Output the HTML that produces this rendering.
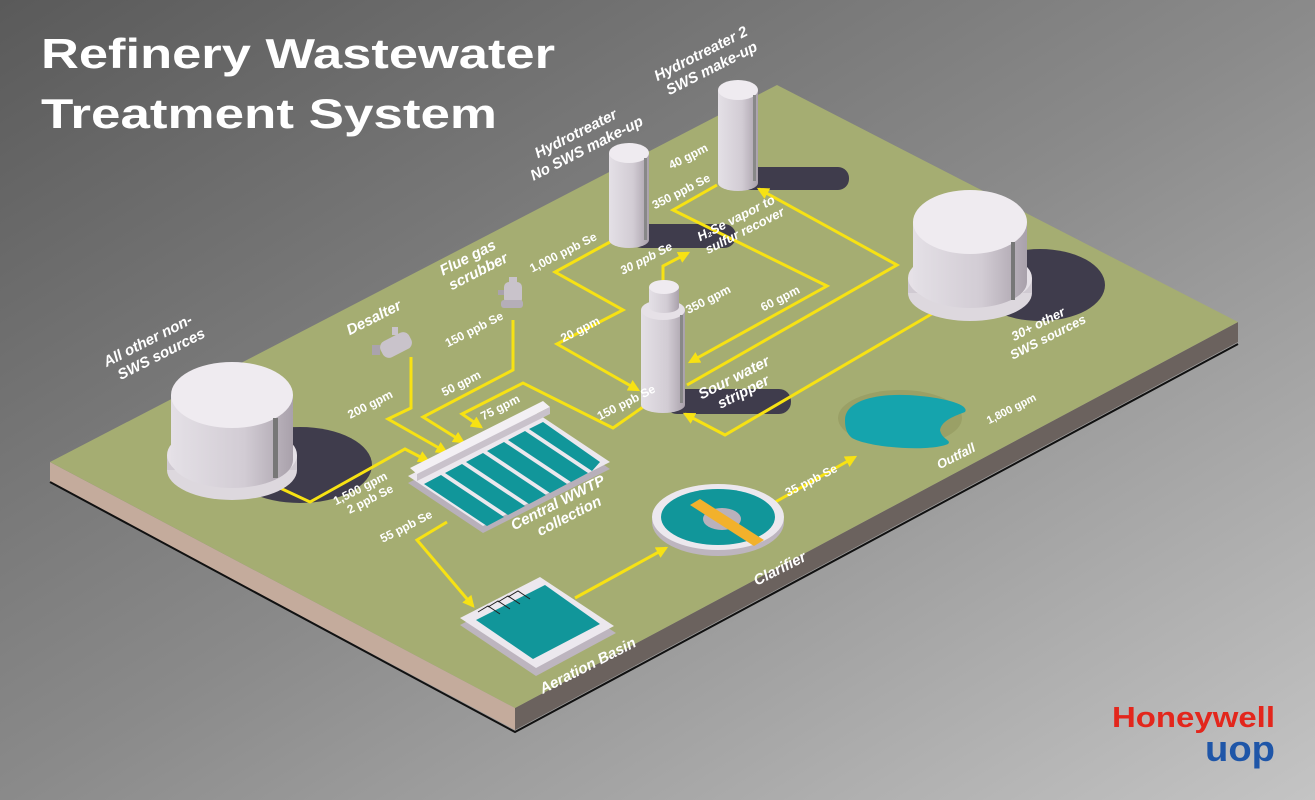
<!DOCTYPE html>
<html><head><meta charset="utf-8"><style>
html,body{margin:0;padding:0;width:1315px;height:800px;overflow:hidden}
svg{display:block}
.t{font-family:"Liberation Sans",sans-serif;font-weight:bold;font-style:italic;fill:#fff;font-size:15px}
.f{font-family:"Liberation Sans",sans-serif;font-weight:bold;fill:#fff;font-size:12px}
.y{fill:none;stroke:#f7e213;stroke-width:3;stroke-linejoin:miter}
</style></head><body>
<svg width="1315" height="800" viewBox="0 0 1315 800" xmlns="http://www.w3.org/2000/svg">
<defs>
<linearGradient id="bg" x1="0" y1="0" x2="1" y2="1">
<stop offset="0" stop-color="#5a5a5a"/><stop offset="0.5" stop-color="#8a8a8a"/><stop offset="1" stop-color="#c4c4c4"/>
</linearGradient>
<linearGradient id="cyl" x1="0" x2="1">
<stop offset="0" stop-color="#e4e0e6"/><stop offset="0.6" stop-color="#d2ccd4"/><stop offset="1" stop-color="#a9a1ab"/>
</linearGradient>
<marker id="ar" viewBox="0 0 10 10" refX="8" refY="5" markerWidth="4" markerHeight="4" orient="auto"><path d="M0,0L10,5L0,10z" fill="#f7e213"/></marker>
</defs>
<rect width="1315" height="800" fill="url(#bg)"/>
<!-- slab -->
<polygon points="50,462 515,708 515,730 50,482" fill="#c4ab9c"/>
<polygon points="515,708 1238,322 1238,342 515,730" fill="#6b625e"/>
<polyline points="50,482 515,732 1238,344" fill="none" stroke="#111" stroke-width="2"/>
<polygon points="50,462 777,85 1238,322 515,708" fill="#a5ad72"/>

<!-- shadows -->
<ellipse cx="300" cy="465" rx="72" ry="38" fill="#3f3c4c"/>
<ellipse cx="1040" cy="285" rx="65" ry="36" fill="#3f3c4c"/>
<rect x="630" y="224" width="106" height="24" rx="12" fill="#3f3c4c"/>
<rect x="735" y="167" width="114" height="23" rx="11" fill="#3f3c4c"/>
<rect x="665" y="389" width="126" height="25" rx="12" fill="#3f3c4c"/>

<!-- yellow lines -->
<polyline class="y" marker-end="url(#ar)" points="280,488 310,502 405,449 428,461"/>
<polyline class="y" marker-end="url(#ar)" points="411,357 411,408 388,419 446,452"/>
<polyline class="y" marker-end="url(#ar)" points="513,320 513,370 423,417 463,442"/>
<polyline class="y" marker-end="url(#ar)" points="643,407 613,428 523,383 462,414 481,427"/>
<polyline class="y" marker-end="url(#ar)" points="610,242 555,272 623,310 557,344 638,390"/>
<polyline class="y" marker-end="url(#ar)" points="663,287 663,266 688,253"/>
<polyline class="y" marker-end="url(#ar)" points="717,185 673,210 827,286 690,362"/>
<polyline class="y" marker-end="url(#ar)" points="687,385 897,265 759,189"/>
<polyline class="y" marker-end="url(#ar)" points="935,312 725,435 685,414"/>
<polyline class="y" marker-end="url(#ar)" points="447,522 417,540 473,606"/>
<polyline class="y" marker-end="url(#ar)" points="575,598 666,548"/>
<polyline class="y" marker-end="url(#ar)" points="770,505 855,457"/>

<!-- big left tank -->
<ellipse cx="232" cy="470" rx="65" ry="30" fill="#ddd8de"/>
<rect x="167" y="455" width="130" height="15" fill="#d0cad2"/>
<ellipse cx="232" cy="455" rx="65" ry="30" fill="#e6e1e7"/>
<rect x="171" y="395" width="122" height="65" fill="url(#cyl)"/>
<ellipse cx="232" cy="460" rx="61" ry="28" fill="url(#cyl)"/>
<ellipse cx="232" cy="395" rx="61" ry="33" fill="#efebf0"/>
<rect x="273" y="418" width="5" height="60" fill="#777"/>
<!-- big right tank -->
<ellipse cx="970" cy="293" rx="62" ry="28" fill="#ddd8de"/>
<rect x="908" y="278" width="124" height="15" fill="#d0cad2"/>
<ellipse cx="970" cy="278" rx="62" ry="28" fill="#e6e1e7"/>
<rect x="913" y="222" width="114" height="60" fill="url(#cyl)"/>
<ellipse cx="970" cy="282" rx="57" ry="26" fill="url(#cyl)"/>
<ellipse cx="970" cy="222" rx="57" ry="32" fill="#efebf0"/>
<rect x="1011" y="242" width="4" height="58" fill="#777"/>
<!-- hydrotreater 1 -->
<rect x="609" y="153" width="40" height="87" fill="url(#cyl)"/>
<ellipse cx="629" cy="240" rx="20" ry="8" fill="url(#cyl)"/>
<ellipse cx="629" cy="153" rx="20" ry="10" fill="#efebf0"/>
<rect x="644" y="158" width="3" height="82" fill="#888"/>
<!-- hydrotreater 2 -->
<rect x="718" y="90" width="40" height="93" fill="url(#cyl)"/>
<ellipse cx="738" cy="183" rx="20" ry="8" fill="url(#cyl)"/>
<ellipse cx="738" cy="90" rx="20" ry="10" fill="#efebf0"/>
<rect x="753" y="95" width="3" height="86" fill="#888"/>
<!-- stripper -->
<rect x="641" y="310" width="44" height="95" fill="url(#cyl)"/>
<ellipse cx="663" cy="405" rx="22" ry="8" fill="url(#cyl)"/>
<ellipse cx="663" cy="310" rx="22" ry="10" fill="#e6e1e7"/>
<rect x="649" y="287" width="30" height="20" fill="url(#cyl)"/>
<ellipse cx="664" cy="307" rx="15" ry="6" fill="url(#cyl)"/>
<ellipse cx="664" cy="287" rx="15" ry="7" fill="#efebf0"/>
<rect x="680" y="315" width="3" height="88" fill="#888"/>
<!-- desalter -->
<g fill="#c9c3cb"><rect x="380" y="336" width="32" height="18" rx="7" transform="rotate(-27 396 345)"/>
<rect x="372" y="345" width="8" height="10" fill="#aaa3ad"/><rect x="392" y="327" width="6" height="8"/></g>
<!-- scrubber -->
<g fill="#c9c3cb"><rect x="504" y="282" width="18" height="22" rx="5"/><rect x="501" y="300" width="22" height="8" rx="3" fill="#b5aeb8"/><rect x="509" y="277" width="8" height="6"/><rect x="498" y="290" width="6" height="5" fill="#aaa3ad"/></g>

<!-- central WWTP: left(408,476) top(535,412) right(610,462) bottom(483,526) -->
<polygon points="408,483 535,419 610,469 483,533" fill="#b8b0ba"/>
<polygon points="408,476 535,412 610,462 483,526" fill="#ece8ee"/>
<g fill="#11969a">
<polygon points="424,484 441,475 504,517 487,526"/>
<polygon points="445,473 462,464 525,506 508,515"/>
<polygon points="466,462 483,453 546,495 529,504"/>
<polygon points="487,451 504,442 567,484 550,493"/>
<polygon points="508,440 525,431 588,473 571,482"/>
<polygon points="529,429 543,422 600,462 592,471"/>
</g>
<polygon points="410,468 543,401 550,407 417,474" fill="#f3f0f4"/>
<polygon points="417,474 550,407 550,414 417,481" fill="#c9c2cb"/>

<!-- aeration basin -->
<polygon points="460,625 540,584 616,633 536,676" fill="#bdb5bf"/>
<polygon points="460,618 540,577 614,626 536,668" fill="#ece8ee"/>
<polygon points="476,620 545,585 600,624 533,659" fill="#11969a"/>
<g stroke="#222" stroke-width="1" fill="none"><path d="M478,612l10,-6 12,8"/><path d="M488,607l10,-6 12,8"/><path d="M498,602l10,-6 12,8"/><path d="M508,597l10,-6 12,8"/></g>

<!-- clarifier -->
<ellipse cx="718" cy="522" rx="66" ry="34" fill="#bdb5bf"/>
<ellipse cx="718" cy="517" rx="66" ry="33" fill="#ece8ee"/>
<ellipse cx="718" cy="517" rx="57" ry="28" fill="#11969a"/>
<ellipse cx="722" cy="519" rx="19" ry="11" fill="#b9b1bb"/>
<polygon points="690,505 700,499 764,540 754,546" fill="#f2b12c"/>

<!-- outfall -->
<ellipse cx="900" cy="418" rx="62" ry="28" fill="#9aa066"/>
<path d="M845,420 C845,398 885,392 920,396 C945,398 970,405 965,412 C955,416 942,420 940,430 C942,440 952,440 948,444 C930,452 870,448 852,438 C846,433 845,427 845,420Z" fill="#15a4ad"/>

<!-- labels -->
<text x="41" y="68" font-family="Liberation Sans,sans-serif" font-weight="bold" font-size="42" fill="#fff" textLength="514" lengthAdjust="spacingAndGlyphs">Refinery Wastewater</text>
<text x="41" y="128" font-family="Liberation Sans,sans-serif" font-weight="bold" font-size="42" fill="#fff" textLength="456" lengthAdjust="spacingAndGlyphs">Treatment System</text>

<g class="t">
<text transform="translate(150,345) rotate(-27)" text-anchor="middle"><tspan x="0">All other non-</tspan><tspan x="6" dy="18">SWS sources</tspan></text>
<text transform="translate(376,322) rotate(-27)" text-anchor="middle">Desalter</text>
<text transform="translate(470,262) rotate(-27)" text-anchor="middle"><tspan x="0">Flue gas</tspan><tspan x="3" dy="17">scrubber</tspan></text>
<text transform="translate(578,138) rotate(-27)" text-anchor="middle"><tspan x="0">Hydrotreater</tspan><tspan x="3" dy="18">No SWS make-up</tspan></text>
<text transform="translate(703,58) rotate(-27)" text-anchor="middle"><tspan x="0">Hydrotreater 2</tspan><tspan x="3" dy="18">SWS make-up</tspan></text>
<text transform="translate(738,222) rotate(-27)" text-anchor="middle" font-size="13"><tspan x="0">H₂Se vapor to</tspan><tspan x="2" dy="15">sulfur recover</tspan></text>
<text transform="translate(736,382) rotate(-27)" text-anchor="middle"><tspan x="0">Sour water</tspan><tspan x="2" dy="17">stripper</tspan></text>
<text transform="translate(1040,328) rotate(-27)" text-anchor="middle" font-size="13"><tspan x="0">30+ other</tspan><tspan x="3" dy="16">SWS sources</tspan></text>
<text transform="translate(560,507) rotate(-27)" text-anchor="middle"><tspan x="0">Central WWTP</tspan><tspan x="4" dy="17">collection</tspan></text>
<text transform="translate(590,670) rotate(-27)" text-anchor="middle">Aeration Basin</text>
<text transform="translate(782,573) rotate(-27)" text-anchor="middle">Clarifier</text>
<text transform="translate(958,460) rotate(-27)" text-anchor="middle" font-size="13">Outfall</text>
</g>
<g class="f">
<text transform="translate(690,160) rotate(-27)" text-anchor="middle">40 gpm</text>
<text transform="translate(683,195) rotate(-27)" text-anchor="middle">350 ppb Se</text>
<text transform="translate(565,256) rotate(-27)" text-anchor="middle">1,000 ppb Se</text>
<text transform="translate(648,262) rotate(-27)" text-anchor="middle" font-style="italic">30 ppb Se</text>
<text transform="translate(710,303) rotate(-27)" text-anchor="middle">350 gpm</text>
<text transform="translate(782,302) rotate(-27)" text-anchor="middle">60 gpm</text>
<text transform="translate(582,333) rotate(-27)" text-anchor="middle">20 gpm</text>
<text transform="translate(628,406) rotate(-27)" text-anchor="middle">150 ppb Se</text>
<text transform="translate(476,333) rotate(-27)" text-anchor="middle">150 ppb Se</text>
<text transform="translate(463,387) rotate(-27)" text-anchor="middle">50 gpm</text>
<text transform="translate(502,411) rotate(-27)" text-anchor="middle">75 gpm</text>
<text transform="translate(372,408) rotate(-27)" text-anchor="middle">200 gpm</text>
<text transform="translate(362,492) rotate(-27)" text-anchor="middle"><tspan x="0">1,500 gpm</tspan><tspan x="4" dy="14">2 ppb Se</tspan></text>
<text transform="translate(408,530) rotate(-27)" text-anchor="middle">55 ppb Se</text>
<text transform="translate(813,484) rotate(-27)" text-anchor="middle">35 ppb Se</text>
<text transform="translate(1013,412) rotate(-27)" text-anchor="middle" font-size="11">1,800 gpm</text>
</g>

<text x="1112" y="727" font-family="Liberation Sans,sans-serif" font-weight="bold" font-size="29" fill="#e3261c" textLength="163" lengthAdjust="spacingAndGlyphs">Honeywell</text>
<text x="1205" y="761" font-family="Liberation Sans,sans-serif" font-weight="bold" font-size="36" fill="#1f56a8" textLength="70" lengthAdjust="spacingAndGlyphs">uop</text>
</svg>
</body></html>
